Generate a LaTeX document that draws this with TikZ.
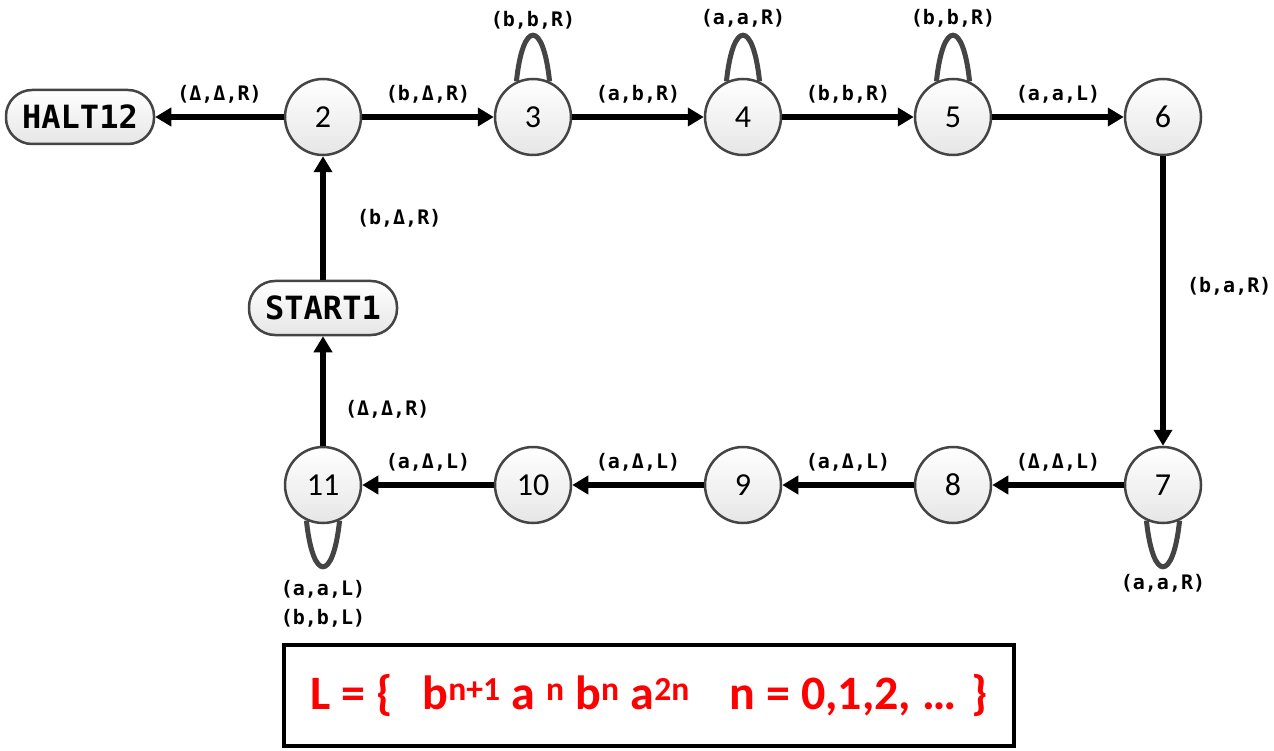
\documentclass[tikz,border=0pt]{standalone}
\usepackage{fontspec}
\setmainfont{Carlito}
\newfontfamily\tapefont{DejaVu Sans Mono}
\usetikzlibrary{positioning, arrows.meta}

\definecolor{rimgray}{HTML}{444444}
\definecolor{fillgray}{HTML}{E6E6E6}

\begin{document}
\begin{tikzpicture}[
    x=1pt, y=-1pt,
    node distance=210pt, on grid,
    state/.style={circle, draw=rimgray, line width=2.5pt, top color=white, bottom color=fillgray, minimum size=76pt, inner sep=0pt, font=\fontsize{32}{32}\selectfont},
    term/.style={rectangle, rounded corners=26pt, draw=rimgray, line width=2.5pt, top color=white, bottom color=fillgray, minimum width=148pt, minimum height=54pt, font=\tapefont\bfseries\fontsize{32}{32}\selectfont},
    arrow/.style={-{Triangle[length=16pt,width=18pt]}, line width=5.5pt},
    selfloop/.style={draw=rimgray, line width=5pt},
    lbl/.style={font=\tapefont\bfseries\fontsize{20}{20}\selectfont}
]
\useasboundingbox (0,0) rectangle (1274,751);

% Nodes
\node[state] (s2) at (323,117) {2};
\node[state, right=of s2] (s3) {3};
\node[state, right=of s3] (s4) {4};
\node[state, right=of s4] (s5) {5};
\node[state, right=of s5] (s6) {6};
\node[term, left=243pt of s2] (halt) {HALT12};
\node[term, below=191pt of s2] (start) {START1};
\node[state, below=368pt of s6] (s7) {7};
\node[state, left=of s7] (s8) {8};
\node[state, left=of s8] (s9) {9};
\node[state, left=of s9] (s10) {10};
\node[state, left=of s10] (s11) {11};

% Arrows
\draw[arrow] (start) -- node[lbl, right=28pt, pos=0.5] {(b,Δ,R)} (s2);
\draw[arrow] (s2) -- node[lbl, above=8pt] {(Δ,Δ,R)} (halt);
\draw[arrow] (s2) -- node[lbl, above=8pt] {(b,Δ,R)} (s3);
\draw[arrow] (s3) -- node[lbl, above=8pt] {(a,b,R)} (s4);
\draw[arrow] (s4) -- node[lbl, above=8pt] {(b,b,R)} (s5);
\draw[arrow] (s5) -- node[lbl, above=8pt] {(a,a,L)} (s6);
\draw[arrow] (s6) -- node[lbl, right=18pt, pos=0.45] {(b,a,R)} (s7);
\draw[arrow] (s7) -- node[lbl, above=8pt] {(Δ,Δ,L)} (s8);
\draw[arrow] (s8) -- node[lbl, above=8pt] {(a,Δ,L)} (s9);
\draw[arrow] (s9) -- node[lbl, above=8pt] {(a,Δ,L)} (s10);
\draw[arrow] (s10) -- node[lbl, above=8pt] {(a,Δ,L)} (s11);
\draw[arrow] (s11) -- node[lbl, right=16pt, pos=0.33] {(Δ,Δ,R)} (start);

% Loops
\draw[selfloop] (s3.115) .. controls +(84:62pt) and +(96:62pt) .. node[lbl, pos=0.5, above=0pt] {(b,b,R)} (s3.65);
\draw[selfloop] (s4.115) .. controls +(84:62pt) and +(96:62pt) .. node[lbl, pos=0.5, above=2pt] {(a,a,R)} (s4.65);
\draw[selfloop] (s5.115) .. controls +(84:62pt) and +(96:62pt) .. node[lbl, pos=0.5, above=2pt] {(b,b,R)} (s5.65);
\draw[selfloop] (s7.245) .. controls +(276:62pt) and +(264:62pt) .. node[lbl, pos=0.5, below=2pt] {(a,a,R)} (s7.295);
\draw[selfloop] (s11.245) .. controls +(276:62pt) and +(264:62pt) .. node[lbl, pos=0.5, below=8pt, align=center] {(a,a,L)\\[9pt](b,b,L)} (s11.295);

% Language
\node[draw, line width=4pt, minimum width=730pt, minimum height=101pt, text=red, font=\bfseries\fontsize{48}{48}\selectfont] (lang) at (649,695.5)
  {L = \{\hspace{30pt}b\textsuperscript{n+1} a \textsuperscript{n} b\textsuperscript{n} a\textsuperscript{2n}\hspace{40pt}n = 0,1,2, …\hspace{15pt}\}};

\end{tikzpicture}
\end{document}
